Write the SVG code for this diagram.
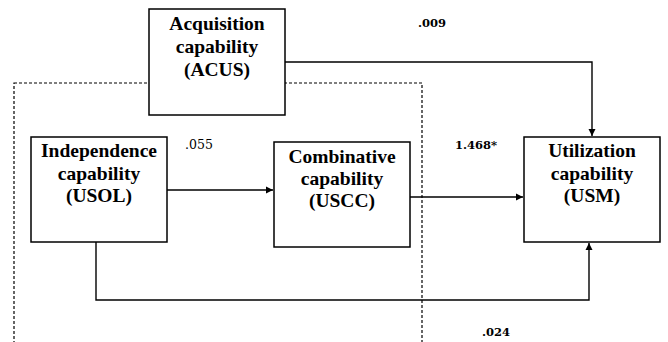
<svg xmlns="http://www.w3.org/2000/svg" width="668" height="342" viewBox="0 0 668 342">
<defs>
<marker id="arr" viewBox="0 0 10 10" refX="10" refY="5" markerWidth="7" markerHeight="8" markerUnits="userSpaceOnUse" orient="auto">
<path d="M0,0 L10,5 L0,10 z" fill="#000"/>
</marker>
</defs>
<style>
.box{fill:#fff;stroke:#000;stroke-width:1.5}
.nt{font-family:"Liberation Serif","Times New Roman",serif;font-weight:bold;font-size:19.5px;text-anchor:middle;fill:#000}
.lb{font-family:"DejaVu Serif",serif;font-weight:bold;font-size:11.5px;fill:#000}
.lr{font-family:"DejaVu Serif",serif;font-size:12.5px;fill:#000}
.cn{fill:none;stroke:#000;stroke-width:1.4}
.dash{fill:none;stroke:#000;stroke-width:1.2;stroke-dasharray:3,2}
</style>
<rect id="group-boundary" class="dash" x="14" y="83" width="408" height="270"/>
<g id="connectors">
<polyline class="cn" points="285,62 592,62 592,136" marker-end="url(#arr)"/>
<line class="cn" x1="167" y1="190" x2="273" y2="190" marker-end="url(#arr)"/>
<line class="cn" x1="410" y1="197" x2="523" y2="197" marker-end="url(#arr)"/>
<polyline class="cn" points="96,242 96,300 589,300 589,243" marker-end="url(#arr)"/>
</g>
<g id="ACUS">
<rect class="box" x="149" y="9" width="136" height="106"/>
<text class="nt" x="217" y="30">Acquisition</text>
<text class="nt" x="217" y="53">capability</text>
<text class="nt" x="217" y="76">(ACUS)</text>
</g>
<g id="USOL">
<rect class="box" x="31" y="137" width="136" height="105"/>
<text class="nt" x="99" y="157">Independence</text>
<text class="nt" x="99" y="180">capability</text>
<text class="nt" x="99" y="202">(USOL)</text>
</g>
<g id="USCC">
<rect class="box" x="274" y="142" width="136" height="105"/>
<text class="nt" x="342" y="163">Combinative</text>
<text class="nt" x="342" y="185">capability</text>
<text class="nt" x="342" y="207">(USCC)</text>
</g>
<g id="USM">
<rect class="box" x="524" y="137" width="136" height="105"/>
<text class="nt" x="592" y="157">Utilization</text>
<text class="nt" x="592" y="180">capability</text>
<text class="nt" x="592" y="202">(USM)</text>
</g>
<g id="labels">
<text class="lr" x="185" y="149">.055</text>
<text class="lb" x="418" y="27">.009</text>
<text class="lb" x="455" y="149">1.468*</text>
<text class="lb" x="482" y="336">.024</text>
</g>
</svg>
